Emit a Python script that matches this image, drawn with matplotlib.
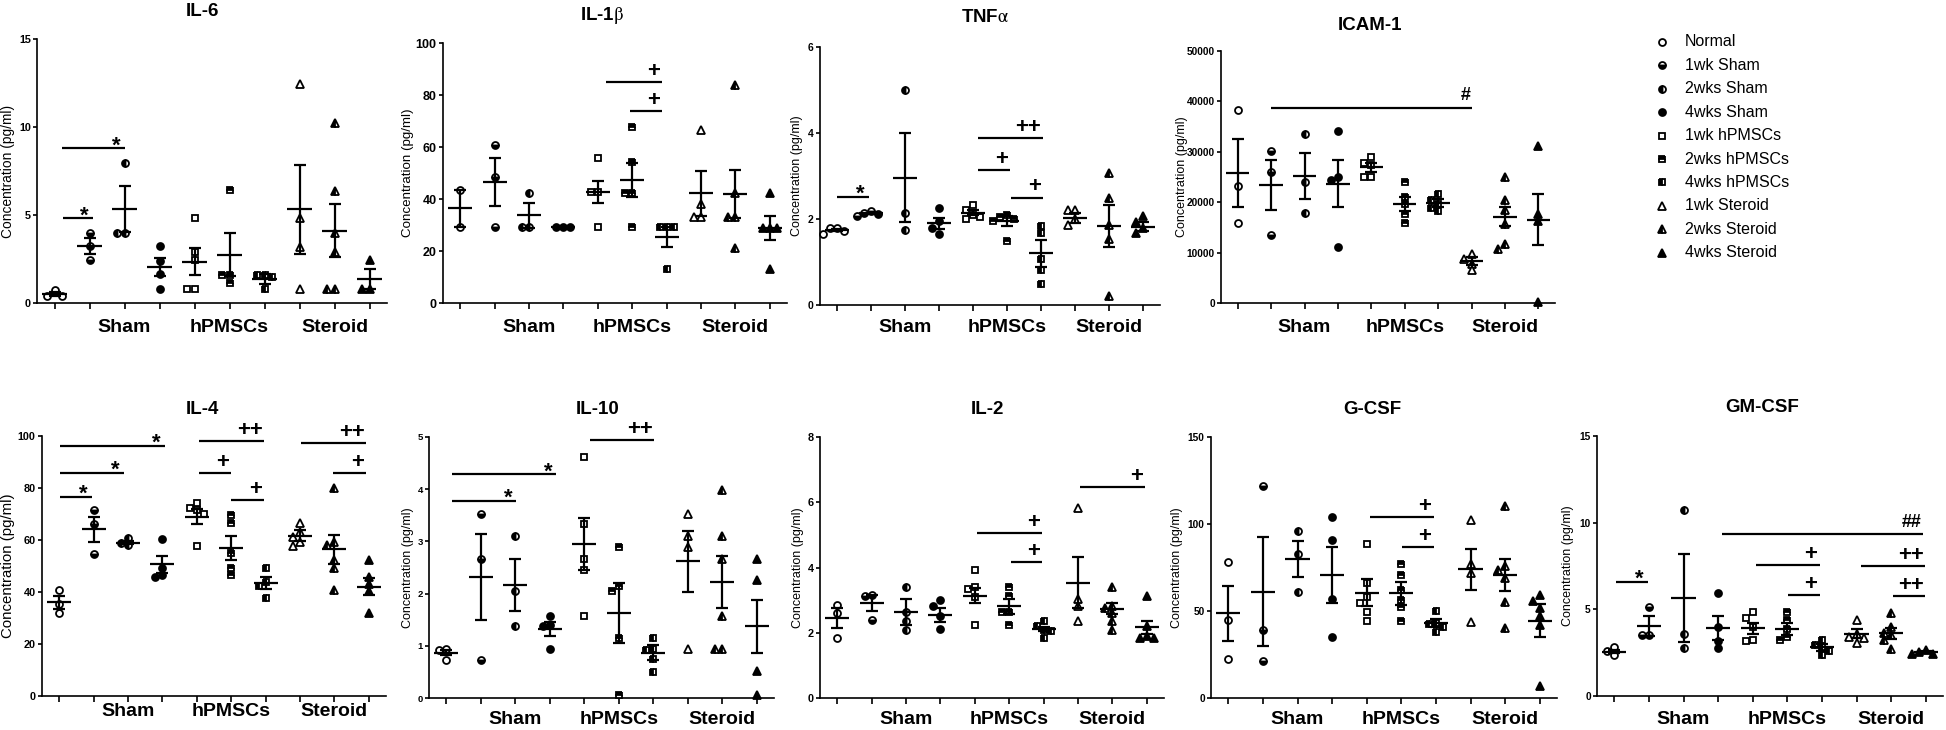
import numpy as np
import matplotlib.pyplot as plt
import matplotlib.transforms as mtransforms

plt.rcParams['font.family'] = ['Liberation Sans', 'DejaVu Sans']
plt.rcParams['mathtext.fontset'] = 'stix'

W, H = 1946, 730

groups = ['Normal', '1wk Sham', '2wks Sham', '4wks Sham',
          '1wk hPMSCs', '2wks hPMSCs', '4wks hPMSCs',
          '1wk Steroid', '2wks Steroid', '4wks Steroid']
group_labels = ['Sham', 'hPMSCs', 'Steroid']
group_label_pos = [2, 5, 8]

# ---- data ----
il6_pts = [[0.75, 0.4, 0.4], [4.0, 3.26, 2.44], [7.94, 4.0, 4.0], [3.24, 2.4, 1.65, 0.78],
           [4.85, 2.9, 2.45, 0.8, 0.8], [6.4, 1.6, 1.6, 1.15], [1.6, 1.6, 1.5, 0.8],
           [12.44, 4.81, 3.2, 0.78], [10.2, 6.36, 4.0, 2.92, 0.78, 0.78], [2.44, 0.78, 0.78]]
il6_mean = [0.52, 3.24, 5.32, 2.06, 2.35, 2.73, 1.35, 5.32, 4.1, 1.35]
il6_sem = [0.1, 0.45, 1.3, 0.52, 0.75, 1.22, 0.28, 2.53, 1.5, 0.58]
il6_sig = [(0.25, 1.1, 4.81, '*'), (0.2, 2.0, 8.79, '*')]

il1b_pts = [[43.3, 29.3], [60.8, 48.6, 29.3], [42.4, 29.3, 29.3], [29.3, 29.3, 29.3],
            [55.9, 42.8, 42.8, 29.3], [67.6, 54.4, 42.4, 42.4, 29.3], [29.3, 29.3, 29.3, 12.9],
            [66.6, 38.0, 33.2, 33.2], [83.9, 42.4, 33.2, 33.2, 21.0], [42.4, 28.9, 28.9, 28.9, 12.9]]
il1b_mean = [36.4, 46.4, 33.8, 29.3, 42.8, 47.3, 25.4, 42.2, 41.8, 28.9]
il1b_sem = [7.0, 9.2, 4.8, 0.0, 4.2, 6.4, 4.0, 8.7, 9.2, 4.6]
il1b_sig = [(4.24, 5.87, 85.0, '+'), (4.94, 5.87, 74.0, '+')]

tnf_pts = [[1.8, 1.78, 1.72, 1.66], [2.18, 2.15, 2.12, 2.08], [5.0, 2.15, 1.75], [2.25, 1.95, 1.8, 1.65],
           [2.32, 2.2, 2.1, 2.05, 2.0], [2.1, 2.05, 2.0, 1.95, 1.5], [1.84, 1.67, 1.06, 0.81, 0.48],
           [2.2, 2.2, 2.0, 1.86], [3.06, 2.48, 1.86, 1.53, 0.21], [2.07, 1.94, 1.8, 1.68]]
tnf_mean = [1.74, 2.13, 2.96, 1.9, 2.15, 1.95, 1.2, 2.02, 1.84, 1.82]
tnf_sem = [0.03, 0.02, 1.03, 0.13, 0.06, 0.12, 0.32, 0.11, 0.48, 0.11]
tnf_sig = [(0.0, 0.94, 2.52, '*'), (4.15, 6.06, 3.89, '++'), (4.15, 5.09, 3.14, '+'), (5.12, 6.06, 2.5, '+')]

icam_pts = [[38280, 23180, 15890], [30130, 26030, 13580], [33580, 24040, 17950],
            [34040, 25030, 24370, 11190], [29000, 27700, 27300, 25000, 25000],
            [24040, 21060, 19600, 17750, 15890], [21590, 20400, 19730, 18940, 18280],
            [9800, 8810, 7810, 6490], [25030, 20530, 18410, 15760, 11790, 10790],
            [31190, 17620, 16290, 200]]
icam_mean = [25830, 23380, 25230, 23710, 26890, 19730, 19870, 8340, 17090, 16560]
icam_sem = [6690, 4940, 4500, 4640, 890, 1390, 730, 830, 1890, 4970]
icam_sig = [(1.0, 7.02, 38740, '#')]

il4_pts = [[40.8, 35.5, 32.0], [71.5, 66.2, 54.6], [60.6, 59.0, 58.0], [60.3, 49.1, 46.5, 45.9],
           [74.4, 72.2, 71.5, 70.0, 57.7], [69.6, 66.4, 55.1, 49.1, 46.5], [49.1, 44.0, 42.5, 37.6],
           [66.4, 63.2, 61.3, 59.4, 57.7], [79.9, 59.4, 58.1, 52.3, 49.1, 40.8],
           [52.3, 45.9, 43.1, 40.4, 31.8]]
il4_mean = [36.0, 64.1, 59.0, 50.6, 69.0, 57.1, 43.3, 61.7, 56.4, 42.1]
il4_sem = [2.4, 4.9, 0.6, 3.3, 3.0, 4.6, 2.3, 2.1, 5.5, 3.3]
il4_sig = [(0.03, 0.96, 76.7, '*'), (0.03, 1.89, 85.9, '*'), (0.03, 3.08, 96.3, '*'),
           (4.07, 5.96, 98.1, '++'), (4.07, 5.0, 85.6, '+'), (5.0, 5.96, 75.4, '+'),
           (7.03, 8.92, 97.4, '++'), (7.97, 8.92, 85.9, '+')]

il10_pts = [[0.94, 0.92, 0.72], [3.53, 2.67, 0.72], [3.1, 2.05, 1.37], [1.58, 1.4, 1.37, 0.94],
            [4.62, 3.33, 2.67, 2.46, 1.58], [2.89, 2.15, 2.05, 1.15, 0.06], [1.15, 0.94, 0.92, 0.75, 0.49],
            [3.53, 3.1, 2.89, 0.94], [3.98, 3.1, 2.67, 1.58, 0.94, 0.94], [2.66, 2.27, 0.51, 0.06]]
il10_mean = [0.87, 2.32, 2.17, 1.32, 2.95, 1.63, 0.87, 2.62, 2.22, 1.37]
il10_sem = [0.05, 0.83, 0.5, 0.14, 0.5, 0.57, 0.14, 0.58, 0.5, 0.5]
il10_sig = [(0.17, 2.03, 3.78, '*'), (0.17, 3.19, 4.29, '*'), (4.17, 6.03, 4.94, '++')]

il2_pts = [[2.86, 2.6, 1.84], [3.15, 3.12, 2.38], [3.4, 2.64, 2.35, 2.09], [2.99, 2.81, 2.5, 2.11],
           [3.93, 3.39, 3.34, 3.1, 2.23], [3.39, 3.14, 2.63, 2.63, 2.23], [2.35, 2.2, 2.09, 2.05, 1.84],
           [5.82, 3.03, 2.81, 2.35], [3.4, 2.81, 2.75, 2.6, 2.35, 2.09], [3.14, 2.2, 1.9, 1.85, 1.85]]
il2_mean = [2.45, 2.91, 2.64, 2.55, 3.14, 2.81, 2.11, 3.54, 2.73, 2.17]
il2_sem = [0.3, 0.25, 0.4, 0.21, 0.24, 0.23, 0.07, 0.77, 0.17, 0.2]
il2_sig = [(4.07, 5.96, 5.06, '+'), (5.06, 5.96, 4.16, '+'), (7.06, 8.95, 6.46, '+')]

gcsf_pts = [[78.0, 44.7, 22.3], [122.1, 39.0, 21.3], [96.2, 82.8, 61.0], [103.9, 90.8, 56.7, 35.1],
            [88.3, 66.3, 57.8, 54.4, 49.5, 44.4], [77.0, 70.7, 62.0, 56.3, 52.4, 44.2],
            [50.1, 43.0, 42.8, 40.9, 38.0], [102.4, 77.0, 71.6, 43.4],
            [110.4, 75.9, 73.6, 68.8, 55.3, 40.5], [59.2, 56.0, 52.0, 47.0, 41.9, 6.7]]
gcsf_mean = [48.6, 61.1, 79.9, 70.7, 60.5, 60.1, 43.2, 73.9, 70.7, 44.4]
gcsf_sem = [16.0, 31.2, 10.6, 16.1, 7.8, 6.5, 2.4, 11.9, 9.2, 9.6]
gcsf_sig = [(4.09, 5.94, 103.9, '+'), (5.01, 5.94, 86.6, '+')]

gmcsf_pts = [[2.81, 2.6, 2.37], [5.15, 3.5, 3.5], [10.73, 3.58, 2.75], [5.96, 4.0, 3.17, 2.75],
             [4.83, 4.48, 4.0, 3.25, 3.2], [4.83, 4.38, 3.85, 3.42, 3.23], [3.23, 2.94, 2.81, 2.6, 2.37],
             [4.38, 3.58, 3.4, 3.33, 3.08], [4.77, 4.0, 3.62, 3.5, 3.23, 2.69], [2.65, 2.55, 2.45, 2.4]]
gmcsf_mean = [2.56, 4.06, 5.67, 3.94, 3.9, 3.85, 2.81, 3.58, 3.62, 2.54]
gmcsf_sem = [0.1, 0.58, 2.53, 0.7, 0.3, 0.34, 0.2, 0.26, 0.33, 0.06]
gmcsf_sig = [(0.06, 0.96, 6.6, '*'), (3.1, 8.93, 9.33, '##'), (4.09, 5.94, 7.56, '+'),
             (5.01, 5.94, 5.83, '+'), (7.13, 8.99, 7.5, '++'), (8.06, 8.99, 5.77, '++')]

# marker style of each group
mk_shape = ['o', 'o', 'o', 'o', 's', 's', 's', '^', '^', '^']
mk_fill = ['full', 'bottom', 'left', 'full', 'full', 'top', 'left', 'full', 'left', 'full']
mk_face = ['white', 'black', 'black', 'black', 'white', 'black', 'black', 'white', 'black', 'black']

# layout: pixel boxes (left, top, right, bottom) etc.
panels = [
    dict(title='IL-6', pts=il6_pts, mean=il6_mean, sem=il6_sem, sig=il6_sig,
         box=(37, 39, 387, 303), yticks=[0, 5, 10, 15], txy=(202, 12), ylx=8, ylfs=9.9, tfs=7.8, gly=328),
    dict(title=r'IL-1$\mathrm{\beta}$', pts=il1b_pts, mean=il1b_mean, sem=il1b_sem, sig=il1b_sig,
         box=(443, 43, 787, 303), yticks=[0, 20, 40, 60, 80, 100], txy=(602, 15), ylx=408, ylfs=9.6, tfs=9, gly=328),
    dict(title=r'TNF$\mathrm{\alpha}$', pts=tnf_pts, mean=tnf_mean, sem=tnf_sem, sig=tnf_sig,
         box=(820, 47, 1160, 305), yticks=[0, 2, 4, 6], txy=(985, 18), ylx=797, ylfs=9, tfs=7.5, gly=328),
    dict(title='ICAM-1', pts=icam_pts, mean=icam_mean, sem=icam_sem, sig=icam_sig,
         box=(1221, 51, 1555, 303), yticks=[0, 10000, 20000, 30000, 40000, 50000], txy=(1370, 25),
         ylx=1182, ylfs=9, tfs=7.3, gly=328),
    dict(title='IL-4', pts=il4_pts, mean=il4_mean, sem=il4_sem, sig=il4_sig,
         box=(42, 436, 386, 696), yticks=[0, 20, 40, 60, 80, 100], txy=(202, 410), ylx=8, ylfs=10.8, tfs=7.8, gly=712),
    dict(title='IL-10', pts=il10_pts, mean=il10_mean, sem=il10_sem, sig=il10_sig,
         box=(429, 437, 774, 698), yticks=[0, 1, 2, 3, 4, 5], txy=(598, 410), ylx=408, ylfs=9, tfs=6.8, gly=720),
    dict(title='IL-2', pts=il2_pts, mean=il2_mean, sem=il2_sem, sig=il2_sig,
         box=(820, 437, 1164, 698), yticks=[0, 2, 4, 6, 8], txy=(987, 410), ylx=798, ylfs=9, tfs=7.8, gly=720),
    dict(title='G-CSF', pts=gcsf_pts, mean=gcsf_mean, sem=gcsf_sem, sig=gcsf_sig,
         box=(1211, 437, 1557, 698), yticks=[0, 50, 100, 150], txy=(1372, 410), ylx=1177, ylfs=9, tfs=7.3, gly=720),
    dict(title='GM-CSF', pts=gmcsf_pts, mean=gmcsf_mean, sem=gmcsf_sem, sig=gmcsf_sig,
         box=(1597, 436, 1943, 696), yticks=[0, 5, 10, 15], txy=(1762, 408), ylx=1568, ylfs=9, tfs=7.3, gly=720),
]

MS = 5.0     # marker size (pt)
MPX = 7.8    # marker size in pixels, used to spread overlapping dots
LW = 1.6

sym_dx = {'*': -3.0, '+': -1.7, '++': -1.2, '#': -1.0, '##': -1.0}
sym_dy = {'*': -6.0, '+': 0.0, '++': 0.0, '#': 2.5, '##': 2.5}


def spread_offsets(vals, px_per_unit, px_per_group):
    # push dots sideways when they would overlap (like a scatter dot plot)
    placed, offs = [], []
    for v in vals:
        for k in [0, -1, 1, -2, 2, -3, 3]:
            dx = k * MPX * 0.9
            clash = any(abs(dx - px) < MPX * 0.85 and abs((v - pv) * px_per_unit) < MPX * 0.85
                        for px, pv in placed)
            if not clash:
                break
        placed.append((dx, v))
        offs.append(dx / px_per_group)
    return offs


fig = plt.figure(figsize=(W / 100, H / 100), dpi=100)

for p in panels:
    l, t, r, b = p['box']
    ax = fig.add_axes([l / W, 1 - b / H, (r - l) / W, (b - t) / H])
    ymax = p['yticks'][-1]
    ax.set_xlim(-0.5, 9.5)
    ax.set_ylim(0, ymax)
    px_unit = (b - t) / ymax
    px_group = (r - l) / 10.0

    for i in range(10):
        vals = p['pts'][i]
        offs = spread_offsets(vals, px_unit, px_group)
        ms = MS + 1.0 if mk_shape[i] == '^' else MS
        ax.plot(i + np.array(offs), vals, linestyle='none', marker=mk_shape[i], markersize=ms,
                fillstyle=mk_fill[i], markerfacecolor=mk_face[i], markerfacecoloralt='white',
                markeredgecolor='black', markeredgewidth=1.3, clip_on=False, zorder=3)
        ax.hlines(p['mean'][i], i - 0.35, i + 0.35, color='black', lw=LW, zorder=4, clip_on=False)
        ax.errorbar(i, p['mean'][i], yerr=p['sem'][i], fmt='none', ecolor='black',
                    elinewidth=LW, capsize=4.5, capthick=LW, zorder=4, clip_on=False)

    for x0, x1, y, sym in p['sig']:
        ax.plot([x0, x1], [y, y], color='black', lw=LW, clip_on=False, solid_capstyle='butt')
        fs = 13 if '#' in sym else 16
        ax.annotate(sym, (x1, y), xytext=(sym_dx[sym], sym_dy[sym]), textcoords='offset points',
                    ha='right', va='bottom', fontsize=fs, fontweight='bold', annotation_clip=False)

    for s in ['top', 'right']:
        ax.spines[s].set_visible(False)
    for s in ['left', 'bottom']:
        ax.spines[s].set_linewidth(1.2)
    ax.set_xticks(range(10))
    ax.set_xticklabels([])
    ax.set_yticks(p['yticks'])
    ax.set_yticklabels([str(v) for v in p['yticks']], fontweight='bold')
    ax.tick_params(axis='x', length=4.5, width=1.2, direction='out')
    ax.tick_params(axis='y', length=3, width=1.2, direction='out', pad=1.5, labelsize=p['tfs'])
    ax.patch.set_alpha(0)

    trans = mtransforms.blended_transform_factory(ax.transData, fig.transFigure)
    for gx, gl in zip(group_label_pos, group_labels):
        ax.text(gx, 1 - p['gly'] / H, gl, transform=trans, ha='center', va='center',
                fontsize=14, fontweight='bold', clip_on=False)

    fig.text(p['txy'][0] / W, 1 - p['txy'][1] / H, p['title'], ha='center', va='center',
             fontsize=13.5, fontweight='bold')
    fig.text(p['ylx'] / W, 1 - (t + b) / 2 / H, 'Concentration (pg/ml)', rotation=90,
             ha='center', va='center', fontsize=p['ylfs'])

# legend drawn in pixel space
lax = fig.add_axes([0, 0, 1, 1])
lax.set_xlim(0, W)
lax.set_ylim(H, 0)
lax.axis('off')
lax.patch.set_visible(False)
for i, g in enumerate(groups):
    yy = 42 + 23.4 * i
    ms = MS + 1.0 if mk_shape[i] == '^' else MS
    lax.plot([1662], [yy], linestyle='none', marker=mk_shape[i], markersize=ms,
             fillstyle=mk_fill[i], markerfacecolor=mk_face[i], markerfacecoloralt='white',
             markeredgecolor='black', markeredgewidth=1.3)
    lax.text(1685, yy, g, ha='left', va='center', fontsize=11.5)

fig.savefig('out.png', dpi=100)
